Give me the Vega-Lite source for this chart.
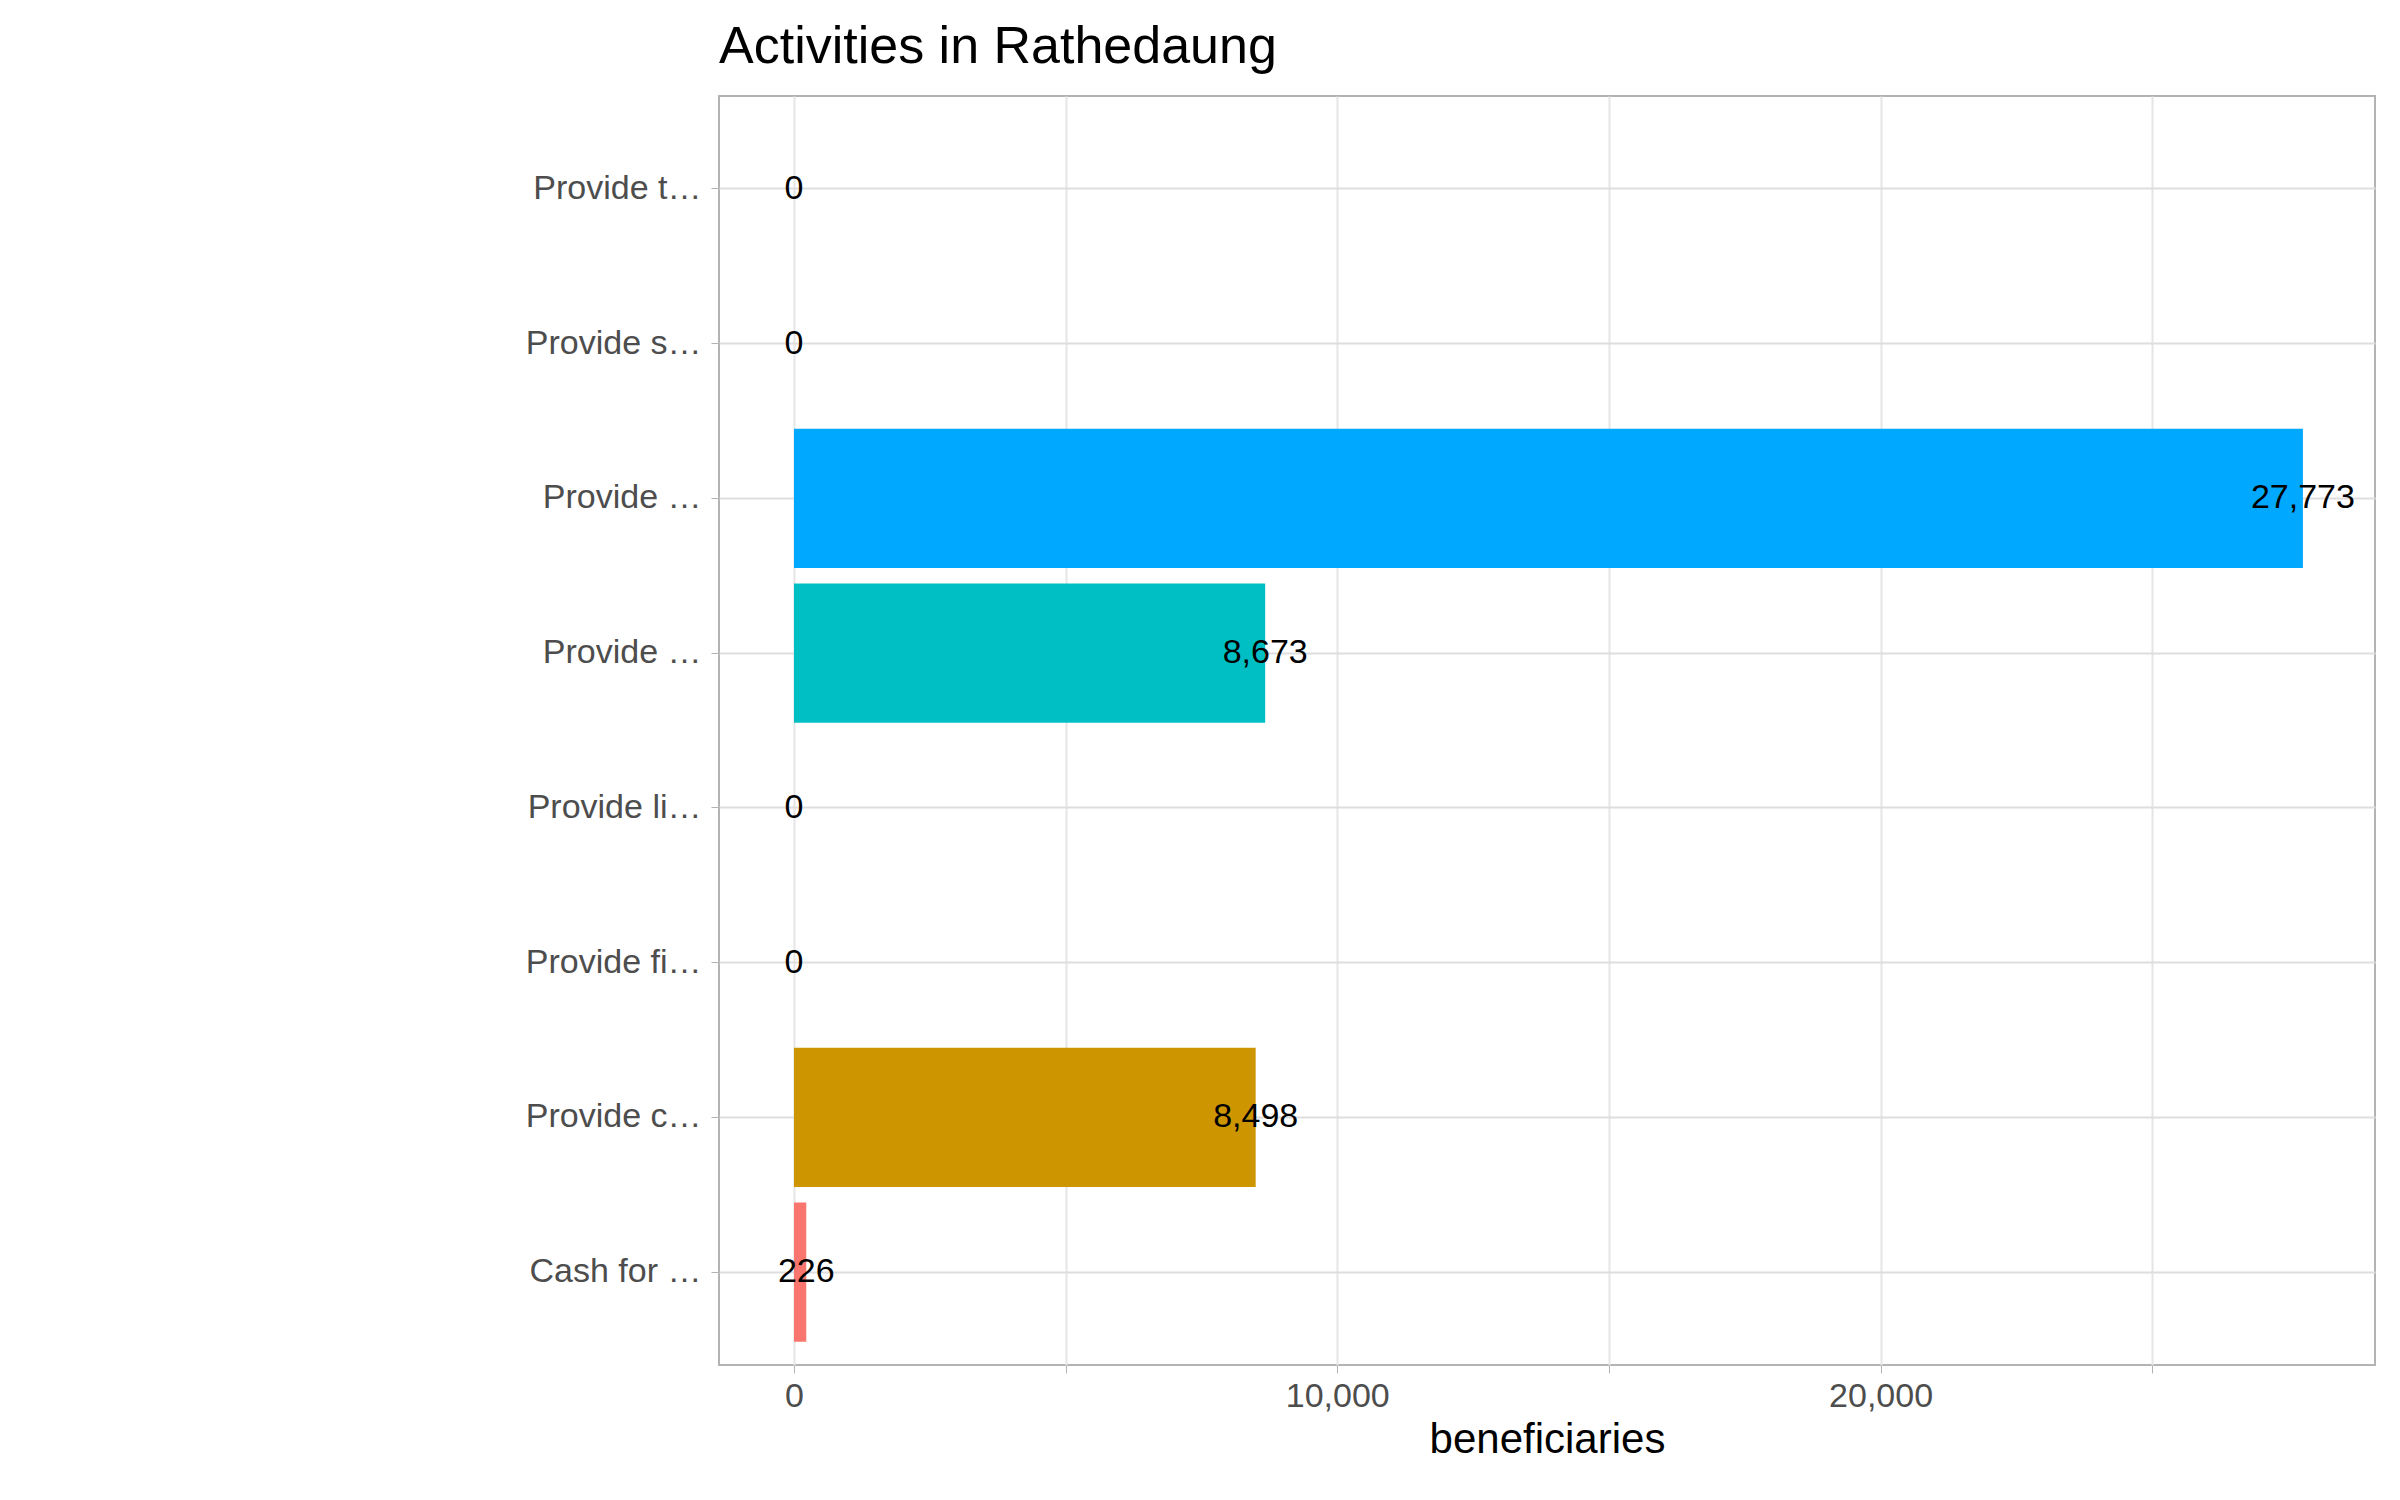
{
  "$schema": "https://vega.github.io/schema/vega-lite/v6.json",
  "autosize": {"type": "none"},
  "padding": {"left": 719, "top": 96, "right": 25, "bottom": 135},
  "width": 1656,
  "height": 1269,
  "background": "white",
  "title": {"text": "Activities in Rathedaung", "anchor": "start", "frame": "group", "fontSize": 52, "font": "Liberation Sans", "fontWeight": "normal", "color": "black", "offset": 22},
  "config": {"view": {"stroke": "#b3b3b3", "strokeWidth": 2}, "font": "Liberation Sans"},
  "data": {"values": [
    {"activity": "Provide technical training", "beneficiaries": 0, "label": "0"},
    {"activity": "Provide support for income generation", "beneficiaries": 0, "label": "0"},
    {"activity": "Provide monthly food baskets", "beneficiaries": 27773, "label": "27,773"},
    {"activity": "Provide monthly cash-based transfers", "beneficiaries": 8673, "label": "8,673"},
    {"activity": "Provide livestock kits", "beneficiaries": 0, "label": "0"},
    {"activity": "Provide fishery kits", "beneficiaries": 0, "label": "0"},
    {"activity": "Provide crops & vegetables kits", "beneficiaries": 8498, "label": "8,498"},
    {"activity": "Cash for Work / Food for Assets", "beneficiaries": 226, "label": "226"}
  ]},
  "encoding": {
    "y": {"field": "activity", "type": "nominal", "sort": null, "title": null,
      "scale": {"paddingInner": 0.1, "paddingOuter": 0.15},
      "axis": {"labelFontSize": 34, "labelColor": "#4d4d4d", "labelPadding": 10, "tickColor": "#b3b3b3", "tickSize": 8, "domain": false, "grid": true, "gridColor": "#dedede", "gridWidth": 2, "bandPosition": 0.5}},
    "x": {"field": "beneficiaries", "type": "quantitative", "title": "beneficiaries",
      "scale": {"domain": [-1380, 29100], "nice": false, "zero": false},
      "axis": {"values": [0, 5000, 10000, 15000, 20000, 25000], "labelExpr": "datum.value % 10000 == 0 ? format(datum.value, ',') : ''", "labelFontSize": 34, "labelColor": "#4d4d4d", "titleFontSize": 42, "titleFontWeight": "normal", "titleColor": "black", "domain": false, "tickColor": "#b3b3b3", "tickSize": 8, "gridColor": "#e5e5e5", "gridWidth": 2, "labelPadding": 6, "titlePadding": 6}}
  },
  "layer": [
    {"mark": {"type": "bar"},
     "encoding": {
       "x2": {"datum": 0},
       "color": {"field": "activity", "type": "nominal", "legend": null,
         "scale": {"domain": ["Cash for Work / Food for Assets", "Provide crops & vegetables kits", "Provide fishery kits", "Provide livestock kits", "Provide monthly cash-based transfers", "Provide monthly food baskets", "Provide support for income generation", "Provide technical training"],
                   "range": ["#F8766D", "#CD9600", "#7CAE00", "#00BE67", "#00BFC4", "#00A9FF", "#C77CFF", "#FF61CC"]}}}},
    {"mark": {"type": "text", "fontSize": 34, "color": "black", "align": "center", "baseline": "middle"},
     "encoding": {"text": {"field": "label"}}}
  ]
}
